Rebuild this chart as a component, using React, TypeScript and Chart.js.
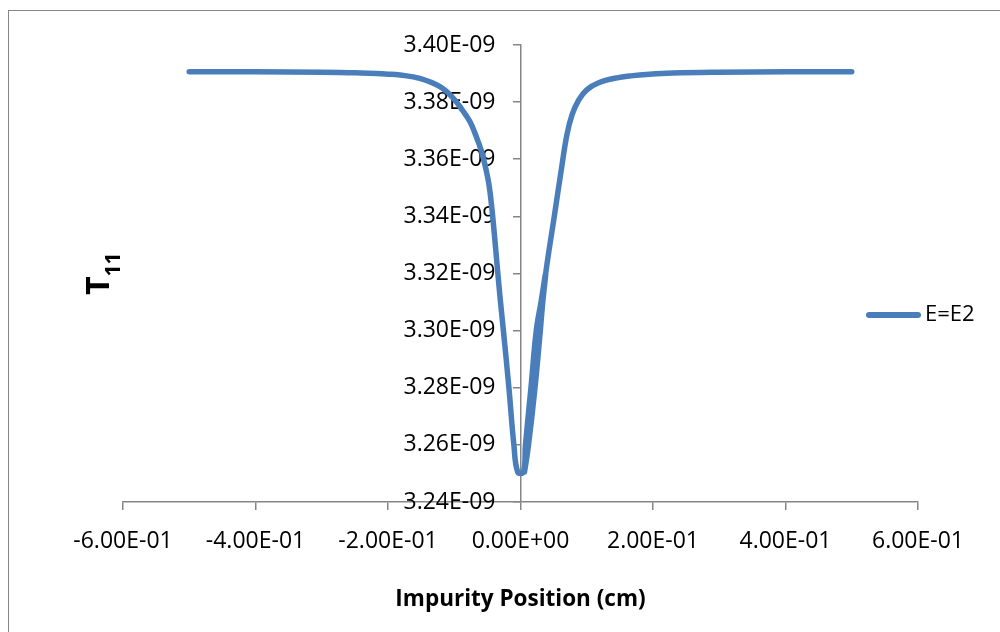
import React, { useEffect, useRef } from "react";
import { Chart, registerables } from "chart.js";

Chart.register(...registerables);

// ---- data ----
const SERIES_LABEL = "E=E2";
const X_TITLE = "Impurity Position (cm)";
const Y_TITLE_MAIN = "T";
const Y_TITLE_SUB = "11";

// impurity position (cm), in plotting order
const X_POS = [
  -0.5, -0.4, -0.3, -0.25, -0.2, -0.182, -0.152, -0.1215, -0.102, -0.0868, -0.0762, -0.0672, -0.0596, -0.0536, -0.0475, -0.043, -0.0387, -0.0347, -0.0305, -0.0258, -0.0175, -0.01, -0.0042,
  0.0045, 0.0075, 0.0158, 0.0238, 0.031, 0.038,
  0.0336, 0.0299, 0.0219, 0.0121, 0.006,
  0.0121, 0.0219, 0.0299, 0.0336, 0.038,
  0.051, 0.062, 0.07, 0.078, 0.088, 0.1, 0.118, 0.146, 0.18, 0.23, 0.3, 0.4, 0.5,
];
// T11 values
const T11 = [
  3.3906e-9, 3.3906e-9, 3.3905e-9, 3.3903e-9, 3.3898e-9, 3.3895e-9, 3.3883e-9, 3.3854e-9, 3.3815e-9, 3.3769e-9, 3.3731e-9, 3.3682e-9, 3.3633e-9, 3.358e-9, 3.351e-9, 3.3423e-9, 3.3318e-9, 3.3213e-9, 3.3108e-9, 3.30e-9, 3.28e-9, 3.26e-9, 3.2505e-9,
  3.2505e-9, 3.26e-9, 3.28e-9, 3.30e-9, 3.31e-9, 3.32e-9,
  3.31e-9, 3.30e-9, 3.28e-9, 3.26e-9, 3.2505e-9,
  3.26e-9, 3.28e-9, 3.30e-9, 3.31e-9, 3.32e-9,
  3.34e-9, 3.357e-9, 3.3685e-9, 3.3757e-9, 3.3808e-9, 3.3843e-9, 3.3868e-9, 3.3885e-9, 3.3895e-9, 3.3902e-9, 3.3905e-9, 3.3906e-9, 3.3906e-9,
];

const X_TICKS = [-0.6, -0.4, -0.2, 0, 0.2, 0.4, 0.6];
const Y_TICKS = [3.24e-9, 3.26e-9, 3.28e-9, 3.30e-9, 3.32e-9, 3.34e-9, 3.36e-9, 3.38e-9, 3.40e-9];

// ---- styles ----
const FONT = "'Open Sans', sans-serif";
const LINE_COLOR = "#4A7EBB";
const AXIS_COLOR = "#868686";
const TICK_FONT_SIZE = 23;

function fmtE(v: number): string {
  if (v === 0) return "0.00E+00";
  let e = Math.floor(Math.log10(Math.abs(v)));
  let m = v / Math.pow(10, e);
  if (Math.abs(m).toFixed(2) === "10.00") {
    m /= 10;
    e += 1;
  }
  return m.toFixed(2) + "E" + (e < 0 ? "-" : "+") + String(Math.abs(e)).padStart(2, "0");
}

const decorPlugin = {
  id: "decor",
  beforeDatasetsDraw(chart: any) {
    // y tick labels, placed left of the y axis (which crosses at x = 0)
    const ctx = chart.ctx;
    const ys = chart.scales.y;
    const xs = chart.scales.x;
    const axisX = xs.getPixelForValue(0);
    ctx.save();
    ctx.fillStyle = "#000";
    ctx.font = `${TICK_FONT_SIZE}px ${FONT}`;
    ctx.textAlign = "right";
    ctx.textBaseline = "middle";
    for (const v of Y_TICKS) {
      ctx.fillText(fmtE(v), axisX - 25, ys.getPixelForValue(v));
    }
    ctx.restore();
  },
  afterDraw(chart: any) {
    const ctx = chart.ctx;
    // Y axis title with subscript
    ctx.save();
    ctx.fillStyle = "#000";
    ctx.translate(109, 295);
    ctx.rotate(-Math.PI / 2);
    ctx.textBaseline = "alphabetic";
    ctx.textAlign = "left";
    ctx.font = `bold 32px ${FONT}`;
    ctx.fillText(Y_TITLE_MAIN, 0, 0);
    const w = ctx.measureText(Y_TITLE_MAIN).width;
    ctx.font = `bold 21px ${FONT}`;
    ctx.fillText(Y_TITLE_SUB, w, 11);
    ctx.restore();

    // legend
    const ds = chart.data.datasets[0];
    ctx.save();
    ctx.strokeStyle = ds.borderColor;
    ctx.lineWidth = 6;
    ctx.lineCap = "round";
    ctx.beginPath();
    ctx.moveTo(869, 315);
    ctx.lineTo(918, 315);
    ctx.stroke();
    ctx.fillStyle = "#000";
    ctx.font = `22px ${FONT}`;
    ctx.textBaseline = "middle";
    ctx.textAlign = "left";
    ctx.fillText(ds.label, 925, 315);
    ctx.restore();
  },
};

export default function App() {
  const ref = useRef<HTMLCanvasElement | null>(null);

  useEffect(() => {
    if (!ref.current) return;
    const points = X_POS.map((x, i) => ({ x, y: T11[i] }));
    const tickFont = { family: FONT, size: TICK_FONT_SIZE };
    const chart = new Chart(ref.current, {
      type: "scatter",
      data: {
        datasets: [
          {
            label: SERIES_LABEL,
            data: points,
            showLine: true,
            borderColor: LINE_COLOR,
            backgroundColor: LINE_COLOR,
            borderWidth: 5.5,
            pointRadius: 0,
            pointHoverRadius: 0,
            tension: 0.4,
            borderJoinStyle: "round",
            borderCapStyle: "round",
          },
        ],
      },
      options: {
        responsive: false,
        animation: false,
        events: [],
        layout: { padding: { left: 123, right: 82, top: 45, bottom: 19 } },
        plugins: {
          legend: { display: false },
          tooltip: { enabled: false },
        },
        scales: {
          x: {
            type: "linear",
            position: "bottom",
            min: -0.6,
            max: 0.6,
            afterBuildTicks: (s: any) => {
              s.ticks = X_TICKS.map((v) => ({ value: v }));
            },
            afterFit: (s: any) => {
              s.height = 111;
            },
            ticks: {
              callback: (v: any) => fmtE(Number(v)),
              font: tickFont,
              color: "#000",
              padding: 18,
              maxRotation: 0,
              autoSkip: false,
            },
            grid: { drawOnChartArea: false, drawTicks: true, tickLength: 8, color: AXIS_COLOR, lineWidth: 1.5 },
            border: { color: AXIS_COLOR, width: 1.5 },
            title: {
              display: true,
              text: X_TITLE,
              font: { family: FONT, size: 22.5, weight: "bold" },
              color: "#000",
              padding: 0,
            },
          },
          y: {
            type: "linear",
            position: { x: 0 } as any,
            min: 3.24e-9,
            max: 3.4e-9,
            afterBuildTicks: (s: any) => {
              s.ticks = Y_TICKS.map((v) => ({ value: v }));
            },
            ticks: {
              display: false,
            },
            grid: { drawOnChartArea: false, drawTicks: true, tickLength: 7, color: AXIS_COLOR, lineWidth: 1.5 },
            border: { color: AXIS_COLOR, width: 1.5 },
          },
        },
      } as any,
      plugins: [decorPlugin],
    });
    return () => chart.destroy();
  }, []);

  return (
    <div style={{ position: "fixed", left: 0, top: 0, width: 1000, height: 632, overflow: "hidden", background: "#fff" }}>
      <div
        style={{
          position: "absolute",
          left: 8,
          top: 10,
          width: 1100,
          height: 700,
          borderLeft: `1.5px solid ${AXIS_COLOR}`,
          borderTop: `1.5px solid ${AXIS_COLOR}`,
        }}
      />
      <canvas ref={ref} width={1000} height={632} style={{ position: "absolute", left: 0, top: 0, width: 1000, height: 632 }} />
    </div>
  );
}
